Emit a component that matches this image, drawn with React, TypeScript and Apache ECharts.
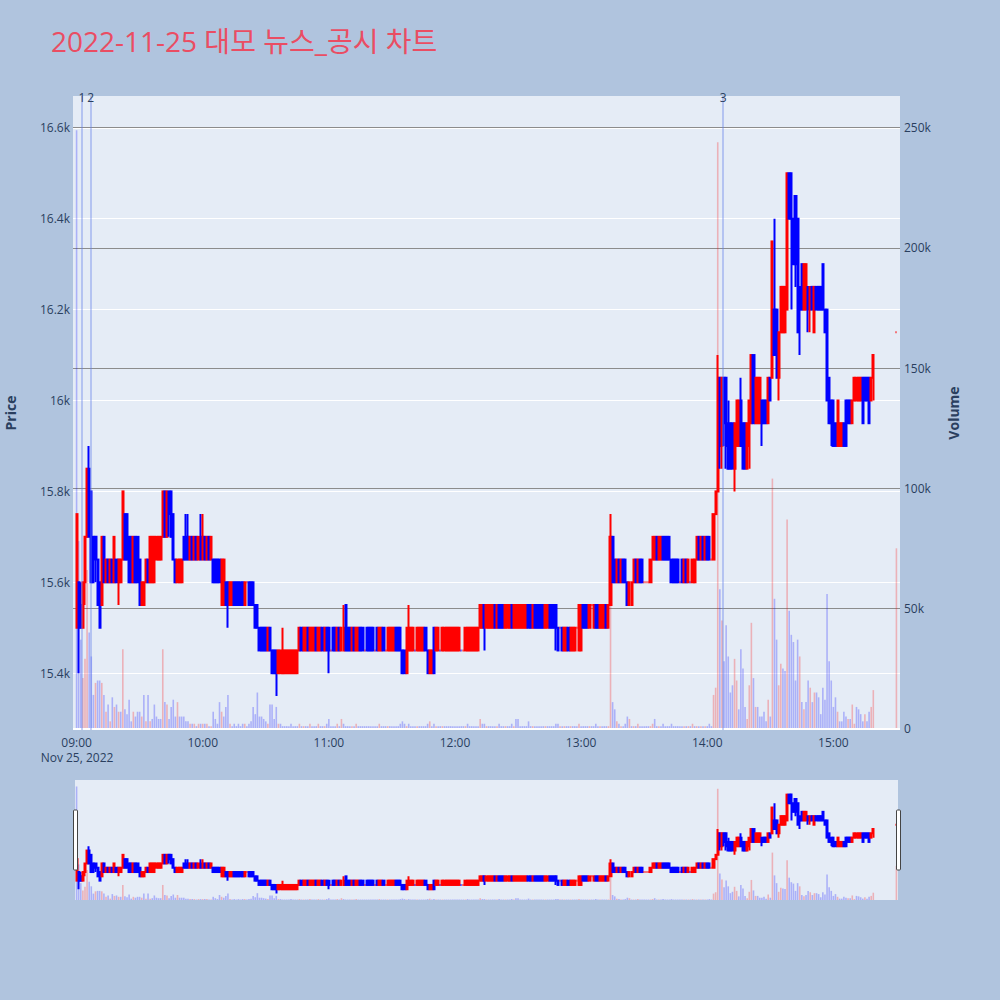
import React, { useEffect, useRef } from "react";
import * as echarts from "echarts";

const TITLE = "2022-11-25 대모 뉴스_공시 차트";
const DATE_LABEL = "Nov 25, 2022";
const SESSION_START = 9 * 60; // 09:00
const CLOSING_AUCTION_MINUTE = 390; // 15:30
const PRICE_AXIS_NAME = "Price";
const VOLUME_AXIS_NAME = "Volume";

// one candle per minute from 09:00 to 15:19, then the 15:30 closing auction
const opens = [
  15500,15600,15550,15500,15600,15700,15850,15800,15700,15700,
  15650,15600,15550,15700,15600,15650,15600,15650,15600,15650,
  15600,15600,15650,15750,15750,15700,15700,15600,15700,15700,
  15650,15550,15550,15600,15650,15600,15600,15600,15650,15650,
  15650,15700,15800,15700,15800,15800,15750,15650,15600,15600,
  15600,15700,15700,15700,15650,15700,15650,15700,15650,15700,
  15650,15700,15650,15700,15650,15650,15650,15650,15650,15550,
  15550,15600,15600,15550,15550,15600,15600,15600,15600,15600,
  15550,15600,15600,15600,15600,15550,15550,15500,15500,15500,
  15500,15450,15500,15450,15450,15450,15400,15400,15400,15400,
  15400,15400,15400,15400,15400,15400,15450,15500,15450,15450,
  15500,15450,15450,15450,15500,15450,15450,15500,15450,15500,
  15500,15450,15500,15500,15450,15500,15450,15450,15550,15500,
  15500,15450,15500,15450,15450,15500,15500,15450,15500,15500,
  15500,15500,15450,15500,15450,15450,15500,15450,15450,15450,
  15450,15450,15500,15500,15500,15450,15450,15400,15450,15450,
  15450,15450,15450,15450,15450,15450,15500,15450,15400,15400,
  15500,15450,15450,15450,15450,15450,15450,15450,15450,15450,
  15450,15450,15450,15450,15450,15450,15450,15450,15450,15450,
  15450,15450,15500,15500,15550,15500,15500,15500,15500,15550,
  15500,15550,15550,15550,15500,15500,15500,15550,15500,15500,
  15500,15500,15500,15500,15500,15550,15550,15500,15550,15550,
  15550,15550,15550,15500,15500,15550,15550,15550,15550,15500,
  15500,15500,15450,15450,15500,15450,15450,15450,15500,15450,
  15450,15550,15550,15550,15500,15550,15500,15550,15550,15500,
  15500,15500,15550,15500,15550,15700,15650,15600,15650,15600,
  15650,15650,15600,15550,15550,15600,15650,15600,15650,15650,
  15600,15600,15600,15600,15650,15650,15700,15650,15650,15700,
  15700,15700,15700,15650,15650,15650,15650,15600,15650,15600,
  15650,15600,15600,15600,15600,15650,15700,15650,15700,15650,
  15700,15700,15650,15650,15750,15800,16050,15900,16050,16050,
  15950,15950,15950,15850,15900,15900,16000,15950,15950,15850,
  15900,15950,16100,15950,15950,15950,16000,16000,16000,15950,
  16050,16050,16200,16200,16050,16150,16150,16150,16200,16500,
  16500,16400,16450,16400,16250,16300,16200,16200,16250,16200,
  16250,16150,16250,16250,16250,16300,16200,16200,16050,16000,
  16000,15950,15900,15900,15900,15950,16000,16000,16000,15950,
  16000,16000,16000,16000,16050,16050,16050,16050,16000,16050,
  16150,
];
const highs = [
  15750,15600,15600,15600,15700,15850,15900,15800,15700,15700,
  15650,15600,15700,15700,15650,15650,15650,15650,15700,15650,
  15650,15650,15800,15750,15750,15700,15700,15700,15700,15700,
  15650,15600,15600,15650,15650,15700,15700,15700,15700,15700,
  15700,15800,15800,15800,15800,15800,15750,15650,15650,15650,
  15650,15700,15750,15750,15700,15700,15700,15700,15700,15750,
  15750,15700,15700,15700,15700,15650,15650,15650,15650,15650,
  15650,15600,15600,15600,15600,15600,15600,15600,15600,15600,
  15600,15600,15600,15600,15600,15550,15550,15500,15500,15500,
  15500,15500,15500,15450,15450,15450,15450,15450,15500,15450,
  15450,15450,15450,15450,15450,15450,15500,15500,15500,15500,
  15500,15500,15500,15500,15500,15500,15500,15500,15500,15500,
  15500,15450,15500,15500,15500,15500,15500,15550,15550,15500,
  15500,15500,15500,15500,15500,15500,15500,15450,15500,15500,
  15500,15500,15450,15500,15500,15500,15500,15450,15500,15500,
  15500,15500,15500,15500,15500,15450,15450,15500,15550,15500,
  15500,15450,15500,15500,15500,15500,15500,15450,15450,15450,
  15500,15500,15500,15450,15500,15500,15500,15500,15500,15500,
  15500,15500,15500,15450,15450,15500,15500,15500,15500,15500,
  15500,15500,15550,15550,15550,15550,15550,15550,15550,15550,
  15550,15550,15550,15550,15550,15550,15550,15550,15550,15550,
  15550,15550,15550,15550,15550,15550,15550,15550,15550,15550,
  15550,15550,15550,15550,15550,15550,15550,15550,15550,15500,
  15500,15500,15500,15500,15500,15500,15500,15500,15500,15550,
  15550,15550,15550,15550,15550,15550,15550,15550,15550,15550,
  15550,15550,15550,15550,15750,15700,15650,15650,15650,15650,
  15650,15650,15600,15600,15600,15650,15650,15650,15650,15650,
  15600,15600,15600,15650,15700,15700,15700,15700,15700,15700,
  15700,15700,15700,15650,15650,15650,15650,15600,15650,15650,
  15650,15650,15600,15650,15650,15700,15700,15700,15700,15700,
  15700,15700,15650,15750,15800,16100,16050,16050,16050,16050,
  16000,15950,15950,15950,16000,16000,16050,15950,15950,15950,
  16000,16100,16100,16050,16050,16050,16000,16000,16000,16050,
  16050,16350,16400,16200,16150,16250,16250,16250,16500,16500,
  16500,16400,16450,16400,16250,16300,16300,16300,16250,16250,
  16250,16250,16250,16250,16250,16300,16200,16200,16050,16000,
  16000,15950,16000,15950,15950,15950,16000,16000,16000,16000,
  16050,16050,16050,16050,16050,16050,16050,16050,16050,16100,
  16150,
];
const lows = [
  15500,15400,15500,15500,15550,15700,15700,15600,15600,15600,
  15550,15500,15550,15600,15600,15600,15600,15600,15600,15600,
  15550,15600,15650,15650,15650,15600,15600,15600,15600,15600,
  15550,15550,15550,15600,15600,15600,15600,15600,15650,15650,
  15650,15700,15700,15700,15700,15700,15650,15600,15600,15600,
  15600,15650,15650,15650,15650,15650,15650,15650,15650,15650,
  15650,15650,15650,15650,15650,15600,15600,15600,15600,15550,
  15550,15550,15500,15550,15550,15550,15550,15550,15550,15550,
  15550,15600,15550,15550,15550,15500,15500,15450,15450,15450,
  15450,15450,15450,15400,15400,15350,15400,15400,15400,15400,
  15400,15400,15400,15400,15400,15400,15450,15450,15450,15450,
  15450,15450,15450,15450,15450,15450,15450,15450,15450,15450,
  15400,15450,15450,15450,15450,15450,15450,15450,15450,15450,
  15450,15450,15450,15450,15450,15450,15450,15450,15450,15450,
  15450,15450,15450,15450,15450,15450,15450,15450,15450,15450,
  15450,15450,15450,15450,15450,15400,15400,15400,15450,15450,
  15450,15450,15450,15450,15450,15450,15450,15400,15400,15400,
  15400,15450,15450,15450,15450,15450,15450,15450,15450,15450,
  15450,15450,15450,15450,15450,15450,15450,15450,15450,15450,
  15450,15450,15500,15500,15450,15500,15500,15500,15500,15500,
  15500,15500,15500,15500,15500,15500,15500,15500,15500,15500,
  15500,15500,15500,15500,15500,15500,15500,15500,15500,15500,
  15500,15500,15500,15500,15500,15500,15500,15500,15450,15450,
  15500,15450,15450,15450,15450,15450,15450,15450,15500,15450,
  15450,15500,15500,15500,15500,15550,15500,15500,15500,15500,
  15500,15500,15500,15500,15550,15600,15600,15600,15600,15600,
  15600,15600,15550,15550,15550,15600,15600,15600,15600,15600,
  15600,15600,15600,15600,15650,15650,15650,15650,15650,15650,
  15650,15650,15650,15600,15600,15600,15600,15600,15600,15600,
  15600,15600,15600,15600,15600,15650,15650,15650,15650,15650,
  15650,15650,15650,15650,15750,15800,15850,15850,15900,15850,
  15850,15850,15850,15800,15900,15900,15900,15850,15850,15850,
  15850,15950,15950,15950,15950,15950,15900,15950,15950,15950,
  16000,16050,16100,16050,16000,16150,16150,16150,16200,16400,
  16200,16300,16250,16150,16100,16200,16200,16200,16150,16150,
  16200,16150,16200,16200,16200,16200,16150,16000,15950,15900,
  15900,15900,15900,15900,15900,15900,15900,15950,15950,15950,
  16000,16000,16000,16000,15950,16000,16000,15950,16000,16000,
  16150,
];
const closes = [
  15750,15500,15500,15600,15700,15850,15700,15600,15600,15650,
  15550,15500,15700,15600,15650,15600,15650,15600,15700,15600,
  15650,15650,15800,15650,15650,15600,15600,15700,15600,15600,
  15550,15600,15600,15650,15600,15700,15700,15700,15700,15700,
  15700,15800,15700,15800,15750,15700,15650,15600,15650,15650,
  15650,15650,15650,15650,15700,15650,15700,15650,15700,15650,
  15700,15650,15700,15650,15700,15600,15600,15600,15600,15650,
  15650,15550,15550,15600,15600,15550,15550,15550,15550,15550,
  15600,15600,15550,15550,15550,15500,15500,15450,15450,15450,
  15450,15500,15450,15400,15400,15400,15450,15450,15450,15450,
  15450,15450,15450,15450,15450,15450,15500,15450,15500,15500,
  15450,15500,15500,15500,15450,15500,15500,15450,15500,15450,
  15450,15450,15450,15450,15500,15450,15500,15500,15450,15450,
  15450,15500,15450,15500,15500,15450,15450,15450,15450,15450,
  15450,15450,15450,15450,15500,15500,15450,15450,15500,15500,
  15500,15500,15450,15450,15450,15400,15400,15500,15500,15500,
  15500,15450,15500,15500,15500,15500,15450,15400,15450,15450,
  15400,15500,15500,15450,15500,15500,15500,15500,15500,15500,
  15500,15500,15500,15450,15450,15500,15500,15500,15500,15500,
  15500,15500,15550,15550,15500,15550,15550,15550,15550,15500,
  15550,15500,15500,15500,15550,15550,15550,15500,15550,15550,
  15550,15550,15550,15550,15550,15500,15500,15550,15500,15500,
  15500,15500,15500,15550,15550,15500,15500,15500,15500,15450,
  15500,15450,15500,15500,15450,15500,15500,15500,15500,15550,
  15550,15500,15500,15500,15550,15550,15550,15500,15500,15550,
  15550,15550,15500,15550,15700,15600,15600,15650,15600,15650,
  15600,15600,15550,15600,15600,15650,15600,15650,15600,15600,
  15600,15600,15600,15650,15700,15700,15650,15700,15700,15650,
  15650,15650,15650,15600,15600,15600,15600,15600,15600,15650,
  15600,15650,15600,15650,15650,15700,15650,15700,15650,15700,
  15650,15650,15650,15750,15800,16050,15900,16050,15950,15900,
  15850,15850,15850,15950,16000,16000,15900,15850,15850,15950,
  16000,16100,15950,16050,16050,16050,15950,15950,15950,16050,
  16000,16350,16100,16050,16150,16250,16250,16250,16500,16400,
  16400,16300,16300,16150,16200,16200,16300,16300,16200,16250,
  16200,16250,16200,16200,16200,16200,16150,16000,15950,15950,
  15900,15900,16000,15950,15950,15900,15900,15950,15950,16000,
  16050,16050,16050,16050,15950,16000,16000,15950,16050,16100,
  16150,
];
// traded volume, thousands of shares
const volumesK = [
  249,78,37,21,29,66,40,30,14,19,
  20,20,19,14,7,10,3,13,9,10,
  7,7,33,8,6,12,3,7,5,7,
  7,5,14,3,14,3,4,10,5,4,
  4,33,11,10,4,9,12,5,11,5,
  5,5,3,3,2,2,2,1,2,2,
  2,2,2,1,1,7,4,2,11,7,
  5,9,14,2,1,2,1,2,1,2,
  2,1,2,3,9,6,15,5,5,4,
  3,2,10,10,4,9,2,2,1,1,
  1,1,2,1,1,1,2,1,1,1,
  1,2,1,1,1,2,1,1,1,2,
  4,1,1,1,2,1,4,2,1,1,
  1,1,1,2,1,1,1,1,1,1,
  1,1,1,1,2,1,1,1,1,1,
  1,1,1,1,2,3,2,1,2,1,
  1,1,1,1,1,1,1,2,3,1,
  2,1,1,1,1,1,1,1,1,1,
  1,1,1,1,1,1,2,1,1,1,
  1,1,4,2,2,1,1,1,1,1,
  1,2,1,1,1,1,1,2,1,4,
  4,1,1,1,1,3,1,1,1,1,
  1,1,1,1,1,1,1,1,2,2,
  1,1,1,1,1,1,1,1,1,2,
  1,1,1,1,1,1,1,2,1,1,
  1,1,1,1,78,11,8,3,2,1,
  1,2,5,4,1,1,1,2,1,1,
  1,1,1,1,2,4,1,1,1,2,
  1,1,1,2,1,1,1,1,1,1,
  1,1,1,2,1,1,1,1,1,1,
  1,2,1,14,17,244,58,45,28,43,
  30,15,18,29,20,8,33,25,9,4,
  18,44,21,9,9,5,5,7,3,12,
  5,104,54,37,18,27,25,24,87,49,
  39,36,20,37,30,11,8,11,20,17,
  11,15,15,13,6,17,12,56,28,20,
  9,13,7,3,3,7,5,4,4,10,
  2,9,8,6,3,6,3,7,9,16,
  75,
];
// news / disclosure markers (minutes after 09:00)
const newsMarks = [
  { label: "1", minute: 2.5 },
  { label: "2", minute: 6.75 },
  { label: "3", minute: 307.6 },
];

const minutes = opens.map((_, i) => (i === opens.length - 1 ? CLOSING_AUCTION_MINUTE : i));

const UP = "#ff0000";
const DOWN = "#0000ff";
const UP_VOL = "rgba(255,0,0,0.25)";
const DOWN_VOL = "rgba(0,0,255,0.25)";
const FONT = '"Open Sans", "Noto Sans CJK KR", Verdana, Arial, sans-serif';
const TXT = "#2a3f5f";
const X_MIN = -1.7;
const X_MAX = 391.7;
const P_MIN = 15275;
const P_MAX = 16670;
const V_MAX = 263.2;

const fmtTime = (v: number) => {
  const t = SESSION_START + Math.round(v);
  const h = Math.floor(t / 60);
  const m = t % 60;
  return `${String(h).padStart(2, "0")}:${String(m).padStart(2, "0")}`;
};

export default function App() {
  const ref = useRef<HTMLDivElement>(null);
  useEffect(() => {
    if (!ref.current) return;
    const chart = echarts.init(ref.current, undefined, { renderer: "svg" });

    const candleData = minutes.map((m, i) => [m, opens[i], closes[i], lows[i], highs[i]]);
    const volData = minutes.map((m, i) => ({
      value: [m, volumesK[i]],
      itemStyle: { color: i > 0 && closes[i] > closes[i - 1] ? UP_VOL : DOWN_VOL },
    }));

    const candleStyle = {
      color: UP,
      color0: DOWN,
      borderColor: UP,
      borderColor0: DOWN,
      borderWidth: 2,
    };

    const baseGraphics: any[] = [
      {
        id: "title",
        type: "text",
        x: 51,
        y: 41,
        style: { text: TITLE, fill: "#ea4d63", font: `28px ${FONT}`, align: "left", verticalAlign: "middle" },
      },
      {
        id: "priceName",
        type: "text",
        x: 10,
        y: 413,
        rotation: Math.PI / 2,
        style: { text: PRICE_AXIS_NAME, fill: TXT, font: `bold 14px ${FONT}`, align: "center", verticalAlign: "middle" },
      },
      {
        id: "volName",
        type: "text",
        x: 953,
        y: 413,
        rotation: Math.PI / 2,
        style: { text: VOLUME_AXIS_NAME, fill: TXT, font: `bold 14px ${FONT}`, align: "center", verticalAlign: "middle" },
      },
      {
        id: "dateLabel",
        type: "text",
        x: 77,
        y: 757,
        style: { text: DATE_LABEL, fill: TXT, font: `12px ${FONT}`, align: "center", verticalAlign: "middle" },
      },
      {
        id: "sliderBg",
        type: "rect",
        z: -10,
        shape: { x: 75, y: 780, width: 823, height: 120 },
        style: { fill: "#e5ecf6" },
      },
      {
        id: "handleL",
        type: "rect",
        z: 100,
        shape: { x: 73.5, y: 810, width: 4, height: 60, r: 1 },
        style: { fill: "#ffffff", stroke: "#444444", lineWidth: 1 },
      },
      {
        id: "handleR",
        type: "rect",
        z: 100,
        shape: { x: 896.5, y: 810, width: 4, height: 60, r: 1 },
        style: { fill: "#ffffff", stroke: "#444444", lineWidth: 1 },
      },
    ];

    const option: any = {
      animation: false,
      backgroundColor: "#b0c4de",
      textStyle: { fontFamily: FONT },
      grid: [
        { left: 73, right: 100, top: 96, height: 634, show: true, backgroundColor: "#e5ecf6", borderWidth: 0 },
        { left: 73, right: 100, top: 780, height: 120, show: false },
      ],
      xAxis: [
        {
          type: "value",
          gridIndex: 0,
          min: X_MIN,
          max: X_MAX,
          minInterval: 60,
          maxInterval: 60,
          axisLine: { show: false },
          axisTick: { show: false },
          splitLine: { show: false },
          axisLabel: {
            color: TXT,
            fontSize: 12,
            fontFamily: FONT,
            margin: 6,
            formatter: fmtTime,
            showMinLabel: false,
            showMaxLabel: false,
          },
        },
        { type: "value", gridIndex: 1, min: X_MIN, max: X_MAX, show: false },
      ],
      yAxis: [
        {
          type: "value",
          gridIndex: 0,
          position: "left",
          min: P_MIN,
          max: P_MAX,
          minInterval: 200,
          maxInterval: 200,
          axisLine: { show: false },
          axisTick: { show: false },
          splitLine: { show: true, showMinLine: false, showMaxLine: false, lineStyle: { color: "#ffffff", width: 1 } },
          axisLabel: {
            color: TXT,
            fontSize: 12,
            fontFamily: FONT,
            margin: 3,
            showMinLabel: false,
            showMaxLabel: false,
            formatter: (v: number) => `${+(v / 1000).toFixed(1)}k`,
          },
        },
        {
          type: "value",
          gridIndex: 0,
          position: "right",
          min: -0.6,
          max: V_MAX,
          minInterval: 50,
          maxInterval: 50,
          axisLine: { show: false },
          axisTick: { show: false },
          splitLine: { show: true, showMinLine: false, showMaxLine: false, lineStyle: { color: "#8c8c8c", width: 1 } },
          axisLabel: {
            color: TXT,
            fontSize: 12,
            fontFamily: FONT,
            margin: 4,
            showMinLabel: false,
            showMaxLabel: false,
            formatter: (v: number) => (v === 0 ? "0" : `${v}k`),
          },
        },
        { type: "value", gridIndex: 1, min: P_MIN, max: P_MAX, show: false },
        { type: "value", gridIndex: 1, min: 0, max: V_MAX, show: false },
      ],
      series: [
        {
          type: "bar",
          xAxisIndex: 0,
          yAxisIndex: 1,
          barWidth: 1.6,
          z: 1,
          data: volData,
          markLine: {
            silent: true,
            symbol: ["none", "none"],
            label: { show: false },
            lineStyle: { color: "#ffffff", width: 2, type: "solid" },
            data: [{ yAxis: 0 }],
          },
        },
        {
          type: "candlestick",
          xAxisIndex: 0,
          yAxisIndex: 0,
          barWidth: 1.6,
          z: 3,
          encode: { x: 0, y: [1, 2, 3, 4] },
          data: candleData,
          itemStyle: candleStyle,
          markLine: {
            silent: true,
            symbol: ["none", "none"],
            label: { show: false },
            lineStyle: { color: "rgba(99,128,235,0.5)", width: 1.5, type: "solid" },
            data: newsMarks.map((n) => ({ xAxis: n.minute })),
          },
        },
        {
          type: "bar",
          xAxisIndex: 1,
          yAxisIndex: 3,
          barWidth: 1.6,
          z: 1,
          data: volData,
        },
        {
          type: "candlestick",
          xAxisIndex: 1,
          yAxisIndex: 2,
          barWidth: 1.6,
          z: 3,
          encode: { x: 0, y: [1, 2, 3, 4] },
          data: candleData,
          itemStyle: candleStyle,
        },
      ],
      graphic: { elements: baseGraphics },
    };

    chart.setOption(option);

    const newsGraphics = newsMarks.map((n, i) => {
      const px = chart.convertToPixel({ xAxisIndex: 0 }, n.minute) as number;
      return {
        id: `news${i}`,
        type: "text",
        x: px,
        y: 97,
        z: 100,
        style: { text: n.label, fill: TXT, font: `12px ${FONT}`, align: "center", verticalAlign: "middle" },
      };
    });
    chart.setOption({ graphic: { elements: [...baseGraphics, ...newsGraphics] } });

    return () => chart.dispose();
  }, []);

  return <div ref={ref} style={{ position: "fixed", left: 0, top: 0, width: 1000, height: 1000 }} />;
}
